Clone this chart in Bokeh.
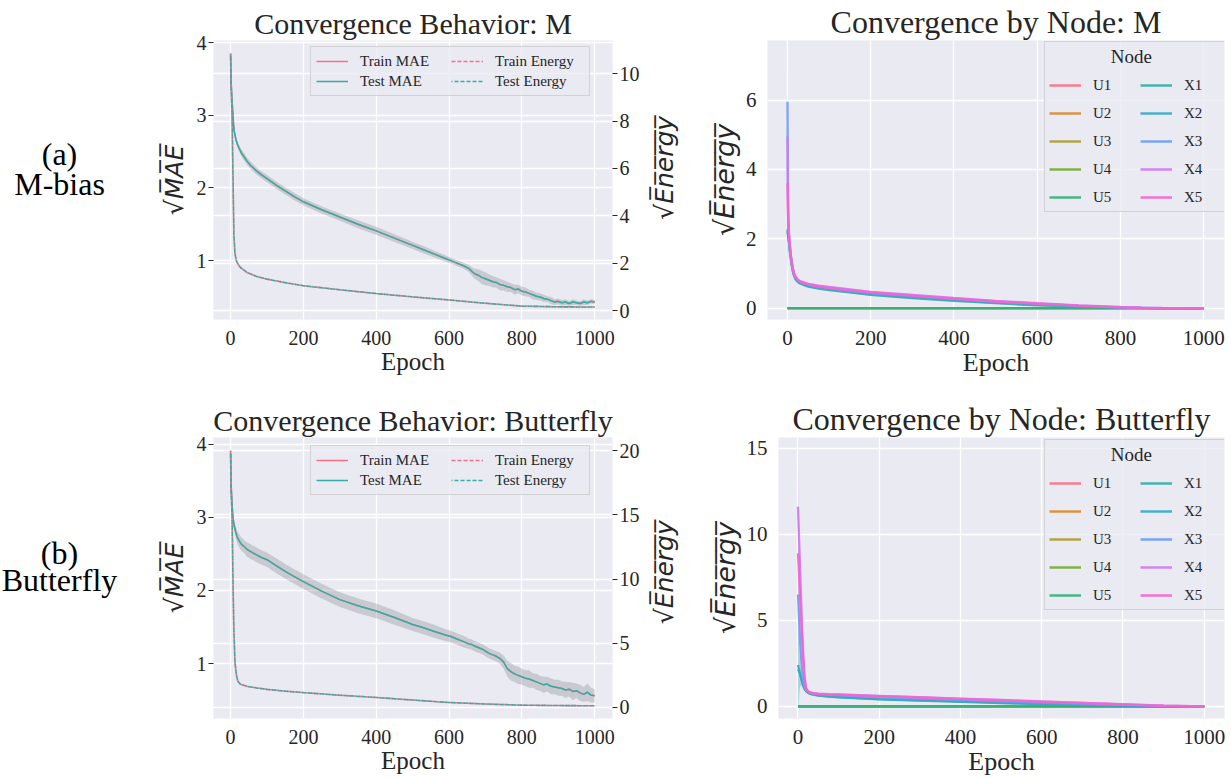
import math
from bokeh.plotting import figure
from bokeh.models import Range1d, LinearAxis, Grid, SingleIntervalTicker, Legend, LegendItem
from bokeh.layouts import row, column
from bokeh.embed import file_html
from bokeh.resources import INLINE
from bokeh.core.properties import value

# ---------------- data ----------------
epochs_mae = [0, 1, 2, 4, 6, 8, 10, 14, 18, 23, 30, 37, 45, 55, 70, 85, 100, 125, 150, 175, 200,
              250, 300, 350, 400, 450, 500, 530, 560, 590, 605, 620, 640, 655, 663, 670, 680, 690, 700,
              710, 720, 730, 740, 750, 760, 770, 780, 790, 800, 810, 820, 830, 840, 850, 860, 870, 880,
              890, 900, 910, 920, 930, 940, 950, 960, 970, 980, 990, 1000]

test_mae_m = [3.83, 3.55, 3.40, 3.20, 3.05, 2.88, 2.78, 2.68, 2.61, 2.55, 2.48, 2.43, 2.37, 2.31,
              2.24, 2.18, 2.13, 2.04, 1.96, 1.88, 1.81, 1.70, 1.60, 1.50, 1.41, 1.31, 1.21,
              1.15, 1.09, 1.03, 1.00, 0.97, 0.93, 0.89, 0.85, 0.82, 0.80, 0.77, 0.75,
              0.73, 0.71, 0.70, 0.67, 0.66, 0.64, 0.63, 0.60, 0.61, 0.58, 0.57, 0.55, 0.53, 0.51,
              0.50, 0.48, 0.47, 0.45, 0.43, 0.44, 0.42, 0.43, 0.41, 0.43, 0.42, 0.41, 0.43, 0.42,
              0.44, 0.43]
train_mae_m = list(test_mae_m)
band_m = [0.02, 0.02, 0.02, 0.03, 0.03, 0.03, 0.03, 0.04, 0.04, 0.045, 0.045, 0.05, 0.05, 0.05,
          0.05, 0.05, 0.05, 0.05, 0.05, 0.05, 0.05, 0.05, 0.05, 0.055, 0.055, 0.055, 0.05,
          0.05, 0.045, 0.045, 0.04, 0.04, 0.04, 0.05, 0.06, 0.07, 0.08, 0.09, 0.09,
          0.08, 0.08, 0.07, 0.08, 0.07, 0.07, 0.06, 0.07, 0.06, 0.06, 0.06, 0.05, 0.06, 0.05,
          0.05, 0.05, 0.04, 0.05, 0.04, 0.04, 0.04, 0.04, 0.03, 0.04, 0.03, 0.03, 0.04, 0.03,
          0.03, 0.03]

test_mae_b = [3.87, 3.55, 3.38, 3.18, 3.03, 2.94, 2.88, 2.80, 2.73, 2.68, 2.63, 2.60, 2.56, 2.53,
              2.49, 2.45, 2.42, 2.34, 2.26, 2.19, 2.12, 1.99, 1.875, 1.79, 1.72, 1.63, 1.535,
              1.49, 1.44, 1.39, 1.37, 1.34, 1.30, 1.27, 1.26, 1.24, 1.22, 1.20, 1.17,
              1.14, 1.12, 1.10, 1.07, 1.02, 0.93, 0.89, 0.86, 0.84, 0.82, 0.80, 0.79, 0.77, 0.75,
              0.73, 0.71, 0.72, 0.69, 0.68, 0.67, 0.66, 0.64, 0.65, 0.62, 0.63, 0.60, 0.58, 0.61,
              0.57, 0.56]
train_mae_b = list(test_mae_b)
band_b = [0.02, 0.03, 0.04, 0.05, 0.06, 0.07, 0.07, 0.08, 0.08, 0.09, 0.09, 0.09, 0.10, 0.10,
          0.10, 0.10, 0.10, 0.10, 0.10, 0.10, 0.10, 0.10, 0.10, 0.10, 0.10, 0.10, 0.09,
          0.09, 0.09, 0.08, 0.08, 0.08, 0.08, 0.07, 0.07, 0.07, 0.07, 0.07, 0.07,
          0.07, 0.07, 0.07, 0.08, 0.09, 0.11, 0.12, 0.11, 0.12, 0.11, 0.11, 0.12, 0.10, 0.11,
          0.10, 0.11, 0.10, 0.11, 0.10, 0.11, 0.10, 0.11, 0.10, 0.12, 0.10, 0.11, 0.10, 0.12,
          0.10, 0.09]

epochs_en = [0, 1, 4, 7, 9, 12, 16, 20, 27, 46, 70, 100, 150, 200, 300, 400, 500, 600, 700, 800, 900, 1000]
test_en_m = [10.85, 9.55, 8.2, 5.2, 3.2, 2.4, 2.1, 1.97, 1.82, 1.60, 1.45, 1.33, 1.18, 1.05,
             0.88, 0.72, 0.58, 0.45, 0.31, 0.19, 0.16, 0.15]
train_en_m = list(test_en_m)
test_en_b = [20.0, 17.0, 14.8, 9.1, 6.0, 3.5, 2.5, 2.03, 1.80, 1.63, 1.52, 1.40, 1.26, 1.15,
             0.945, 0.77, 0.57, 0.375, 0.26, 0.17, 0.14, 0.12]
train_en_b = list(test_en_b)

nodes = ["U1", "U2", "U3", "U4", "U5", "X1", "X2", "X3", "X4", "X5"]
epochs_node = [0, 1, 2, 4, 6, 8, 10, 13, 16, 20, 25, 30, 40, 50, 75, 100, 150, 200, 300, 400,
               500, 600, 700, 800, 850, 900, 1000]
zeros_node = [0.0] * len(epochs_node)
node_m = {
    "X1": [2.28, 2.15, 2.05, 1.85, 1.62, 1.42, 1.25, 1.05, 0.92, 0.82, 0.75, 0.71, 0.66, 0.62, 0.56,
           0.52, 0.45, 0.38, 0.29, 0.21, 0.14, 0.08, 0.04, 0.01, 0.005, 0.0, 0.0],
    "X2": [2.22, 2.12, 2.03, 1.86, 1.64, 1.44, 1.27, 1.07, 0.94, 0.84, 0.77, 0.73, 0.68, 0.64, 0.58,
           0.54, 0.47, 0.40, 0.31, 0.23, 0.16, 0.10, 0.05, 0.015, 0.005, 0.0, 0.0],
    "X3": [5.95, 3.6, 2.6, 2.05, 1.75, 1.52, 1.33, 1.12, 0.98, 0.88, 0.80, 0.76, 0.71, 0.67, 0.61,
           0.57, 0.50, 0.43, 0.34, 0.26, 0.19, 0.12, 0.06, 0.02, 0.008, 0.0, 0.0],
    "X4": [4.95, 3.3, 2.5, 2.08, 1.78, 1.55, 1.36, 1.15, 1.0, 0.90, 0.82, 0.78, 0.74, 0.70, 0.65,
           0.61, 0.54, 0.47, 0.38, 0.29, 0.21, 0.14, 0.08, 0.03, 0.01, 0.003, 0.0],
    "X5": [3.6, 2.9, 2.4, 2.0, 1.72, 1.5, 1.32, 1.12, 0.98, 0.88, 0.80, 0.76, 0.72, 0.68, 0.62,
           0.58, 0.51, 0.45, 0.36, 0.27, 0.19, 0.13, 0.07, 0.02, 0.008, 0.0, 0.0],
}
spread_m = [1.35, 0.7, 0.4, 0.25, 0.15, 0.1, 0.08, 0.06, 0.05, 0.04, 0.03, 0.03, 0.03, 0.03, 0.03,
            0.03, 0.03, 0.03, 0.03, 0.02, 0.02, 0.02, 0.01, 0.01, 0.005, 0.0, 0.0]
node_b = {
    "X1": [2.4, 2.3, 2.2, 2.0, 1.8, 1.6, 1.42, 1.2, 1.02, 0.88, 0.78, 0.72, 0.66, 0.62, 0.56, 0.52,
           0.46, 0.40, 0.33, 0.26, 0.19, 0.12, 0.07, 0.03, 0.015, 0.005, 0.0],
    "X2": [2.15, 2.1, 2.05, 1.95, 1.8, 1.62, 1.45, 1.23, 1.05, 0.9, 0.8, 0.74, 0.68, 0.64, 0.58, 0.54,
           0.48, 0.42, 0.35, 0.28, 0.21, 0.14, 0.09, 0.04, 0.02, 0.01, 0.0],
    "X3": [6.5, 6.0, 5.4, 4.4, 3.5, 2.7, 2.1, 1.5, 1.15, 0.95, 0.84, 0.78, 0.73, 0.70, 0.66, 0.63,
           0.58, 0.53, 0.45, 0.37, 0.29, 0.21, 0.14, 0.07, 0.04, 0.02, 0.0],
    "X4": [11.6, 10.9, 10.2, 8.8, 7.4, 6.0, 4.7, 3.0, 1.8, 1.05, 0.88, 0.80, 0.76, 0.74, 0.71, 0.69,
           0.65, 0.61, 0.53, 0.45, 0.37, 0.28, 0.20, 0.12, 0.08, 0.04, 0.0],
    "X5": [8.9, 8.4, 7.9, 6.9, 5.9, 4.9, 3.9, 2.6, 1.6, 1.0, 0.86, 0.79, 0.75, 0.72, 0.69, 0.67,
           0.63, 0.59, 0.51, 0.43, 0.35, 0.27, 0.19, 0.11, 0.07, 0.03, 0.0],
}
spread_b = [3.4, 2.5, 1.8, 1.0, 0.6, 0.4, 0.3, 0.2, 0.12, 0.08, 0.05, 0.04, 0.04, 0.04, 0.04, 0.04,
            0.04, 0.04, 0.03, 0.03, 0.03, 0.03, 0.02, 0.02, 0.01, 0.01, 0.0]

side_labels_a = ["(a)", "M-bias"]
side_labels_b = ["(b)", "Butterfly"]

# ---------------- style ----------------
SERIF = "Liberation Serif"
BG = "#EAEAF2"
TXT = "#262626"
PINK = "#f77189"
TEAL = "#36ada4"
NODE_COLORS = ['#f77189', '#dc8932', '#ae9d31', '#77ab31', '#33b07a',
               '#36ada4', '#38a9c5', '#6e9bf4', '#cc7af4', '#f565cc']
SQRT_MAE = "\u221aM\u0305A\u0305E\u0305"
SQRT_EN = "\u221aE\u0305n\u0305e\u0305r\u0305g\u0305y\u0305"


def base_style(p, title_size, tick_size, label_size):
    p.background_fill_color = BG
    p.border_fill_color = "white"
    p.outline_line_color = None
    p.title.text_font = SERIF
    p.title.text_font_size = title_size
    p.title.text_font_style = "normal"
    p.title.text_color = TXT
    p.title.align = "center"
    p.title.standoff = 2
    p.grid.grid_line_color = "white"
    p.grid.grid_line_width = 1.3
    for ax in p.axis:
        ax.axis_line_color = None
        ax.major_tick_line_color = None
        ax.minor_tick_line_color = None
        ax.major_label_text_font = SERIF
        ax.major_label_text_font_size = tick_size
        ax.major_label_text_color = TXT
        ax.axis_label_text_color = TXT
    p.xaxis.axis_label = "Epoch"
    p.xaxis.axis_label_text_font = SERIF
    p.xaxis.axis_label_text_font_style = "normal"
    p.xaxis.axis_label_text_font_size = label_size
    p.xaxis.axis_label_standoff = 0
    p.xaxis.major_label_standoff = 5
    p.xaxis.ticker = SingleIntervalTicker(interval=200)


def blank(width, height):
    s = figure(width=width, height=height, x_range=Range1d(0, width), y_range=Range1d(0, height),
               output_backend="svg", toolbar_location=None, min_border=0,
               x_axis_location=None, y_axis_location=None)
    s.grid.visible = False
    s.outline_line_color = None
    s.background_fill_color = "white"
    s.border_fill_color = "white"
    return s


def side_panel(texts, ys_from_top, height):
    s = blank(150, height)
    s.text(x=[59] * len(texts), y=[height - v for v in ys_from_top], text=texts,
           text_font=value(SERIF), text_font_size=value("32px"), text_color="black",
           text_align="center", text_baseline="alphabetic")
    return s


def right_label_panel(y_from_top, height):
    s = blank(57, height)
    s.text(x=[21], y=[height - y_from_top], text=[SQRT_EN], angle=math.pi / 2,
           text_font=value("DejaVu Sans"), text_font_style="italic", text_font_size=value("25px"),
           text_color=TXT, text_align="center", text_baseline="middle")
    return s


def conv_panel(title, mae_rng, en_rng, en_int, test_mae, train_mae, band, test_en, train_en,
               top, bottom, height, leg_xy):
    p = figure(width=493, height=height, x_range=Range1d(-47, 1049), y_range=Range1d(*mae_rng),
               output_backend="svg", toolbar_location=None, title=title,
               min_border_left=63, min_border_right=31, min_border_top=top, min_border_bottom=bottom)
    p.extra_y_ranges = {"energy": Range1d(*en_rng)}
    rt = SingleIntervalTicker(interval=en_int)
    rax = LinearAxis(y_range_name="energy", ticker=rt)
    p.add_layout(rax, "right")
    p.add_layout(Grid(dimension=1, ticker=rt, y_range_name="energy",
                      grid_line_color="white", grid_line_width=1.3))
    base_style(p, "30px", "20px", "25px")
    p.yaxis[0].ticker = SingleIntervalTicker(interval=1)
    for ax in p.yaxis:
        ax.major_tick_line_color = TXT
        ax.major_tick_out = 5
        ax.major_tick_in = 0
        ax.major_label_standoff = 2
        ax.axis_label_text_font = "DejaVu Sans"
        ax.axis_label_text_font_style = "italic"
        ax.axis_label_text_font_size = "25px"
        ax.axis_label_standoff = 5
    p.yaxis[0].axis_label = SQRT_MAE

    lo = [m - b for m, b in zip(test_mae, band)]
    hi = [m + b for m, b in zip(test_mae, band)]
    p.varea(x=epochs_mae, y1=lo, y2=hi, fill_color="#8c8c96", fill_alpha=0.35)
    r1 = p.line(epochs_mae, train_mae, line_color=PINK, line_width=1.5)
    r2 = p.line(epochs_mae, test_mae, line_color=TEAL, line_width=1.5)
    r3 = p.line(epochs_en, train_en, line_color=PINK, line_width=1.6, line_dash="4 2",
                y_range_name="energy")
    r4 = p.line(epochs_en, test_en, line_color=TEAL, line_width=1.6, line_dash="4 2",
                line_dash_offset=3, y_range_name="energy")
    leg = Legend(items=[LegendItem(label="Train MAE", renderers=[r1]),
                        LegendItem(label="Test MAE", renderers=[r2]),
                        LegendItem(label="Train Energy", renderers=[r3]),
                        LegendItem(label="Test Energy", renderers=[r4])],
                 ncols=2, location=leg_xy)
    leg.label_text_font = SERIF
    leg.label_text_font_size = "15px"
    leg.label_text_color = TXT
    leg.label_height = 18
    leg.glyph_height = 18
    leg.glyph_width = 32
    leg.label_standoff = 12
    leg.label_width = 89
    leg.spacing = 2
    leg.padding = 5
    leg.background_fill_color = BG
    leg.background_fill_alpha = 0.8
    leg.border_line_color = "#cccccc"
    leg.border_line_alpha = 0.8
    p.add_layout(leg)
    return p


def node_panel(title, y_rng, y_int, data, spread, left, top, bottom, height, leg_xy):
    p = figure(width=531, height=height, x_range=Range1d(-48, 1050), y_range=Range1d(*y_rng),
               output_backend="svg", toolbar_location=None, title=title,
               min_border_left=left, min_border_right=7, min_border_top=top, min_border_bottom=bottom)
    base_style(p, "32px", "21px", "26px")
    p.yaxis.ticker = SingleIntervalTicker(interval=y_int)
    p.yaxis.major_label_standoff = 5
    p.yaxis.axis_label = SQRT_EN
    p.yaxis.axis_label_text_font = "DejaVu Sans"
    p.yaxis.axis_label_text_font_style = "italic"
    p.yaxis.axis_label_text_font_size = "27px"
    p.yaxis.axis_label_standoff = 3
    items = []
    for name, col in zip(nodes, NODE_COLORS):
        vals = data.get(name, zeros_node)
        if name in data:
            lo = [max(v - s, 0.0) for v, s in zip(vals, spread)]
            hi = [v + s for v, s in zip(vals, spread)]
            p.varea(x=epochs_node, y1=lo, y2=hi, fill_color=col, fill_alpha=0.2)
        r = p.line(epochs_node, vals, line_color=col, line_width=2.3, line_alpha=0.9)
        items.append(LegendItem(label=name, renderers=[r]))
    leg = Legend(items=items, ncols=2, location=leg_xy, title="\u00a0" * 13 + "Node")
    leg.title_text_font = SERIF
    leg.title_text_font_size = "19px"
    leg.title_text_font_style = "normal"
    leg.title_text_color = TXT
    leg.title_standoff = 7
    leg.label_text_font = SERIF
    leg.label_text_font_size = "15px"
    leg.label_text_color = TXT
    leg.label_height = 20
    leg.glyph_height = 20
    leg.glyph_width = 32
    leg.label_standoff = 12
    leg.label_width = 39
    leg.spacing = 8
    leg.padding = 4
    leg.background_fill_color = BG
    leg.background_fill_alpha = 0.8
    leg.border_line_color = "#cccccc"
    leg.border_line_alpha = 0.8
    p.add_layout(leg)
    return p


side_a = side_panel(side_labels_a, [158, 200], 390)
side_b = side_panel(side_labels_b, [160, 197], 388)
tl = conv_panel("Convergence Behavior: M", (0.19, 4.03), (-0.375, 11.4), 2,
                test_mae_m, train_mae_m, band_m, test_en_m, train_en_m, 37, 71, 390, (97, 223))
bl = conv_panel("Convergence Behavior: Butterfly", (0.25, 4.09), (-0.87, 21.03), 5,
                test_mae_b, train_mae_b, band_b, test_en_b, train_en_b, 45, 60, 388, (97, 223))
lab_a = right_label_panel(178, 390)
lab_b = right_label_panel(186, 388)
tr = node_panel("Convergence by Node: M", (-0.33, 7.72), 2, node_m, spread_m, 67, 36, 70, 390, (277, 107))
br = node_panel("Convergence by Node: Butterfly", (-0.71, 15.63), 5, node_b, spread_b, 78, 47, 56, 388, (266, 108))

layout = column(row(side_a, tl, lab_a, tr), row(side_b, bl, lab_b, br))
open("out.html", "w").write(file_html(layout, INLINE))
